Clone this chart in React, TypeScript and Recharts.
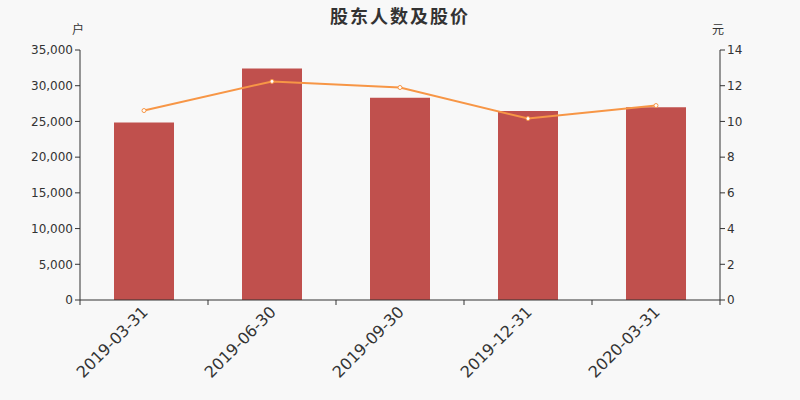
import { Bar, ComposedChart, Line, XAxis, YAxis } from "recharts";

const dates = ["2019-03-31", "2019-06-30", "2019-09-30", "2019-12-31", "2020-03-31"];
const holders = [24850, 32400, 28300, 26450, 27000];
const prices = [10.61, 12.24, 11.9, 10.16, 10.89];
const leftTicks = [0, 5000, 10000, 15000, 20000, 25000, 30000, 35000];
const rightTicks = [0, 2, 4, 6, 8, 10, 12, 14];

const data = dates.map((d, i) => ({ date: d, holders: holders[i], price: prices[i] }));

const axisColor = "#333";
const font = "DejaVu Sans, sans-serif";

function DateTick(props: any) {
  const { x, y, payload, index, visibleTicksCount } = props;
  const half = payload?.offset || 64;
  const isLast = index === visibleTicksCount - 1;
  return (
    <g>
      <line x1={x - half} y1={y - 8} x2={x - half} y2={y - 3} stroke={axisColor} />
      {isLast && <line x1={x + half} y1={y - 8} x2={x + half} y2={y - 3} stroke={axisColor} />}
      <text
        x={x + 5}
        y={y + 5}
        transform={`rotate(-45, ${x + 5}, ${y + 5})`}
        textAnchor="end"
        fontSize={16}
        fontFamily={font}
        fill={axisColor}
      >
        {payload.value}
      </text>
    </g>
  );
}

export default function App() {
  return (
    <div style={{ position: "fixed", left: 0, top: 0, width: 800, height: 400, background: "#f8f8f8" }}>
      <div
        style={{
          position: "absolute",
          top: 2,
          left: 0,
          width: 800,
          textAlign: "center",
          fontFamily: "'Noto Sans CJK SC', sans-serif",
          fontWeight: 700,
          fontSize: 18,
          letterSpacing: 2,
          color: "#333",
        }}
      >
        股东人数及股价
      </div>
      <ComposedChart
        width={800}
        height={400}
        data={data}
        margin={{ top: 50, right: 0, left: 0, bottom: 0 }}
        barCategoryGap={34}
      >
        <XAxis
          dataKey="date"
          height={100}
          stroke={axisColor}
          tickLine={false}
          tick={<DateTick />}
          interval={0}
        />
        <YAxis
          yAxisId="left"
          width={80}
          domain={[0, 35000]}
          ticks={leftTicks}
          stroke={axisColor}
          tickSize={5}
          tickFormatter={(v: number) => v.toLocaleString("en-US")}
          tick={{ fill: axisColor, fontSize: 12, fontFamily: font }}
          label={{ value: "户", position: "top", dx: 38, dy: -11, fill: axisColor, fontSize: 12, fontFamily: "'Noto Sans CJK SC'" }}
        />
        <YAxis
          yAxisId="right"
          orientation="right"
          width={80}
          domain={[0, 14]}
          ticks={rightTicks}
          stroke={axisColor}
          tickSize={5}
          tick={{ fill: axisColor, fontSize: 12, fontFamily: font }}
          label={{ value: "元", position: "top", dx: -42, dy: -11, fill: axisColor, fontSize: 12, fontFamily: "'Noto Sans CJK SC'" }}
        />
        <Bar yAxisId="left" dataKey="holders" fill="#c0504d" isAnimationActive={false} />
        <Line
          yAxisId="right"
          dataKey="price"
          type="linear"
          stroke="#f79646"
          strokeWidth={2}
          dot={{ r: 2, fill: "#fff", stroke: "#f79646", strokeWidth: 1 }}
          isAnimationActive={false}
        />
      </ComposedChart>
    </div>
  );
}
